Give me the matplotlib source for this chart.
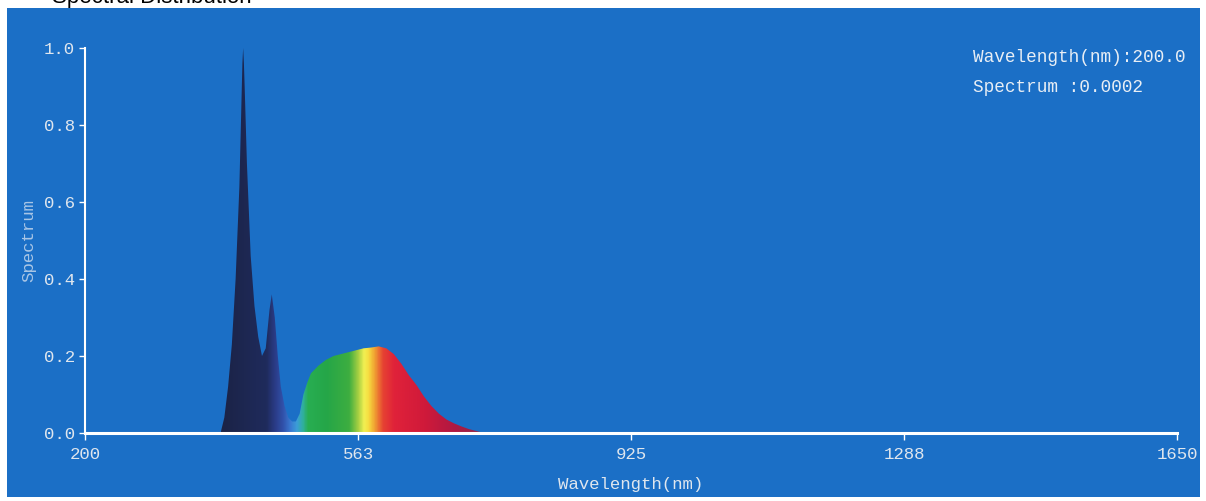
import numpy as np
import matplotlib
matplotlib.use("Agg")
import matplotlib.pyplot as plt
from matplotlib.colors import LinearSegmentedColormap
from matplotlib.patches import Rectangle

# spectrum (nm, relative)
wavelength = [380, 385, 390, 395, 400, 405, 408, 409, 410, 411, 412, 415, 420,
              425, 430, 435, 440, 445, 448, 452, 456, 460, 465, 470, 475, 480,
              485, 490, 495, 500, 510, 520, 530, 540, 550, 560, 570, 580, 590,
              600, 610, 620, 630, 640, 650, 660, 670, 680, 690, 700, 710, 720,
              730]
spectrum = [0.0, 0.04, 0.12, 0.23, 0.40, 0.64, 0.88, 0.96, 1.0, 0.96, 0.90,
            0.70, 0.46, 0.33, 0.25, 0.20, 0.22, 0.32, 0.36, 0.30, 0.20, 0.12,
            0.07, 0.04, 0.03, 0.03, 0.05, 0.10, 0.13, 0.155, 0.175, 0.19,
            0.20, 0.205, 0.21, 0.215, 0.22, 0.222, 0.225, 0.22, 0.205, 0.18,
            0.15, 0.125, 0.095, 0.07, 0.05, 0.035, 0.025, 0.017, 0.01, 0.005,
            0.0]

xticks = [200, 563, 925, 1288, 1650]
yticks = [0.0, 0.2, 0.4, 0.6, 0.8, 1.0]

# colour of the fill along the wavelength
stops = [(380, "#1b2346"), (440, "#1f2b5c"), (452, "#2b3d8a"), (462, "#3152ab"),
         (472, "#3a7ad2"), (480, "#3c9cd8"), (488, "#30b0a2"), (495, "#28ae52"),
         (520, "#25a648"), (550, "#3eae40"), (562, "#a6cf42"), (570, "#f2f052"),
         (576, "#f6dc40"), (584, "#f0a232"), (595, "#e64232"), (610, "#e0223a"),
         (650, "#d01a3a"), (690, "#b01842"), (730, "#8c2a4c")]

bg = "#1b6fc6"
fg = "#dfe6ee"
mono = "Liberation Mono"

fig = plt.figure(figsize=(12.06, 5.01), dpi=100)
fig.patch.set_facecolor("white")
fig.patches.append(Rectangle((7 / 1206, 4 / 501), 1193 / 1206, 489 / 501,
                             transform=fig.transFigure, facecolor=bg,
                             edgecolor="none", zorder=-1))
# title is clipped by the top edge, as in the original screenshot
fig.text(52 / 1206, 1 - 3 / 501, "Spectral Distribution", fontsize=16,
         color="black", family="Liberation Sans", va="baseline")

ax = fig.add_axes([85 / 1206, 68 / 501, 1092 / 1206, 385 / 501])
ax.set_facecolor("none")
ax.set_xlim(200, 1650)
ax.set_ylim(0, 1.0)

lo, hi = wavelength[0], wavelength[-1]
cmap = LinearSegmentedColormap.from_list(
    "spec", [((w - lo) / (hi - lo), c) for w, c in stops])
poly = ax.fill_between(wavelength, spectrum, 0, color="none", lw=0)
grad = np.linspace(0, 1, 600).reshape(1, -1)
im = ax.imshow(grad, cmap=cmap, extent=[lo, hi, 0, 1], aspect="auto",
               origin="lower", interpolation="bilinear", zorder=2)
im.set_clip_path(poly.get_paths()[0], transform=ax.transData)

for s in ["top", "right"]:
    ax.spines[s].set_visible(False)
ax.spines["left"].set_color("white")
ax.spines["left"].set_linewidth(1.5)
ax.spines["bottom"].set_color("white")
ax.spines["bottom"].set_linewidth(2.2)
ax.spines["bottom"].set_zorder(3)

ax.set_xticks(xticks)
ax.set_xticklabels([str(t) for t in xticks])
ax.set_yticks(yticks)
ax.set_yticklabels([f"{t:.1f}" for t in yticks])
ax.tick_params(colors="white", labelcolor=fg, length=4, width=1, pad=3)
ax.tick_params(axis="x", length=5, pad=5)
for lab in ax.get_xticklabels() + ax.get_yticklabels():
    lab.set_family(mono)
    lab.set_fontsize(12.5)

ax.set_xlabel("Wavelength(nm)", family=mono, fontsize=12.5, color=fg, labelpad=11)
ax.set_ylabel("Spectrum", family=mono, fontsize=12.5, color="#a9c6e6", labelpad=6)

fig.text(973 / 1206, 1 - 57 / 501, "Wavelength(nm):200.0", family=mono,
         fontsize=12.8, color="#e8eef5", va="center")
fig.text(973 / 1206, 1 - 87 / 501, "Spectrum :0.0002", family=mono,
         fontsize=12.8, color="#e8eef5", va="center")

fig.savefig("out.png", dpi=100)
